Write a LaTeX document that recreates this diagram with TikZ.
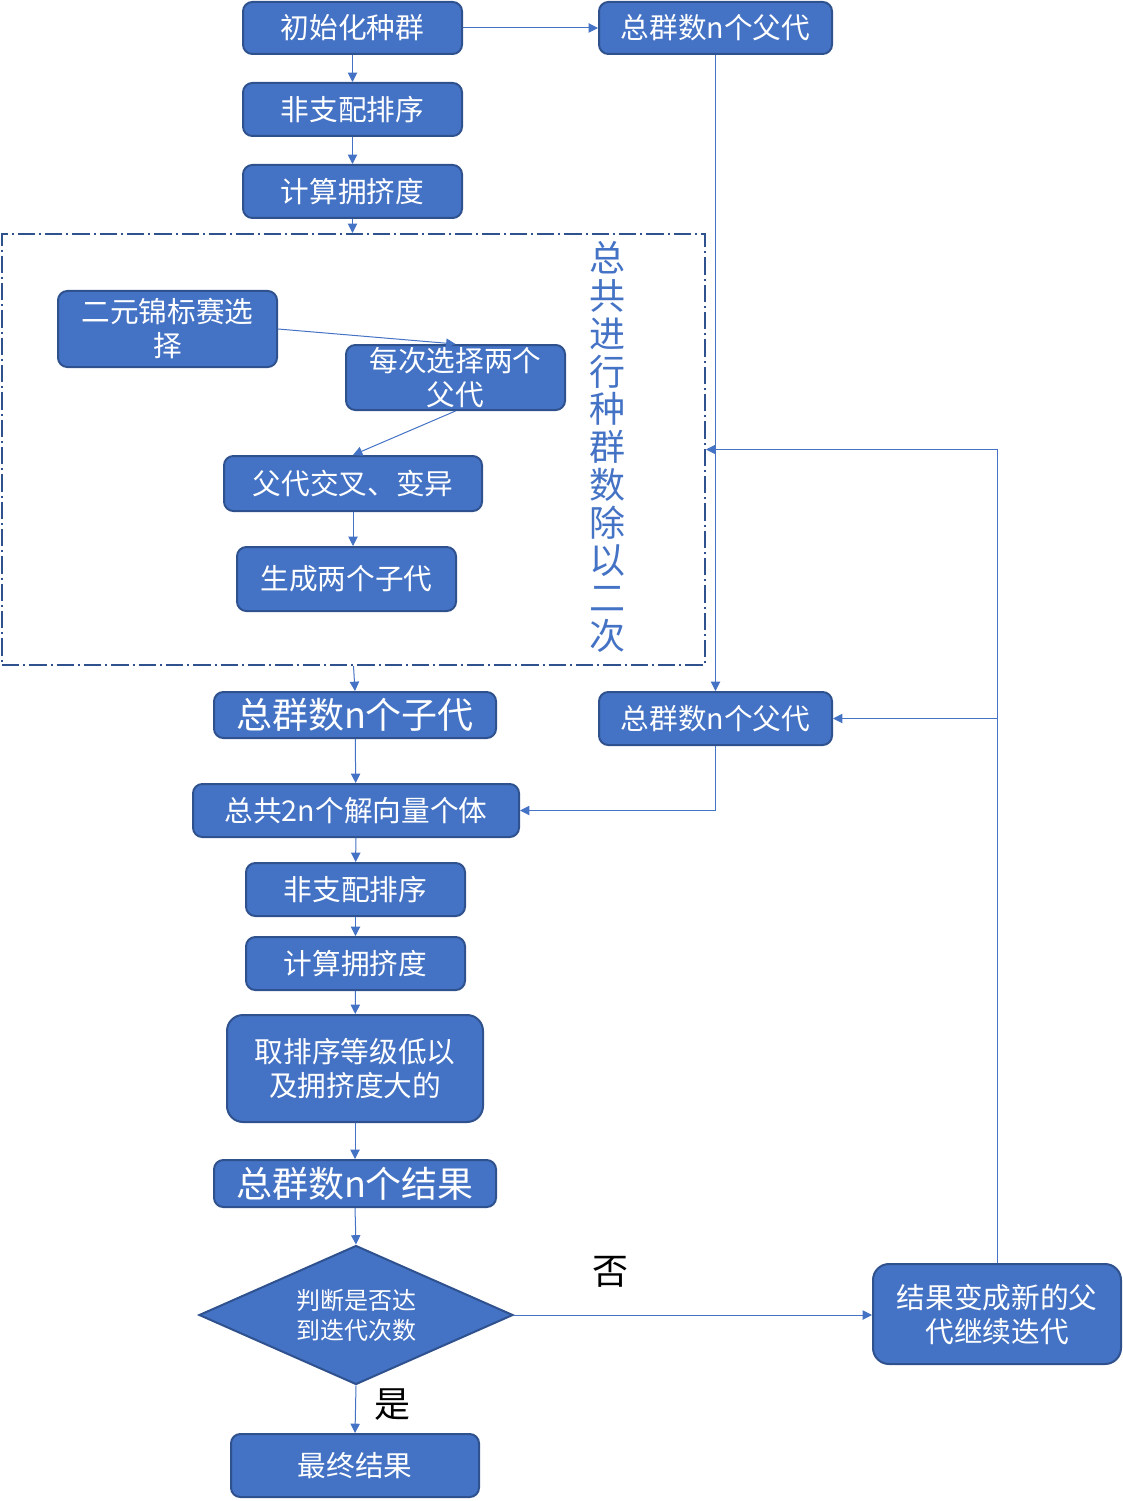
\documentclass[tikz,border=0pt]{standalone}
\usepackage{fontspec}
\setmainfont{Noto Sans CJK SC}
\usetikzlibrary{arrows.meta,shapes.geometric,calc}
\definecolor{bfill}{HTML}{4472C4}
\definecolor{bdraw}{HTML}{2F528F}
\definecolor{lcol}{HTML}{4472C4}
\begin{document}
\begin{tikzpicture}[x=0.75pt,y=-0.75pt,
  sz/.style 2 args={minimum width={#1*0.75pt},minimum height={#2*0.75pt}},
  box/.style={draw=bdraw,fill=bfill,line width=1.5pt,rounded corners=7pt,inner sep=0pt,
    text=white,align=center,font=\fontsize{21.5}{25.5}\selectfont},
  bigbox/.style={box,font=\fontsize{27}{30}\selectfont},
  decis/.style={diamond,draw=bdraw,fill=bfill,line width=1.5pt,inner sep=0pt,shape aspect=2.26,
    minimum width=235.5pt,minimum height=104.25pt,text=white,align=center,
    font=\fontsize{18}{22.5}\selectfont},
  arr/.style={draw=lcol,line width=0.75pt,-{Triangle[length=7pt,width=7pt]}},
  lbl/.style={font=\fontsize{27}{30}\selectfont,text=black,inner sep=0pt},
  loopbox/.style={draw=bdraw,line width=1.5pt,dash pattern=on 13pt off 3pt on 1.5pt off 3pt,inner sep=0pt},
]
\useasboundingbox (0,0) rectangle (1122,1501);

\node[box,sz={219}{52}] (init) at (352.5,28) {初始化种群};
\node[box,sz={233}{52}] (par1) at (715.5,28) {总群数n个父代};
\node[box,sz={219}{53}] (sort1) at (352.5,109.5) {非支配排序};
\node[box,sz={219}{53}] (crowd1) at (352.5,191.5) {计算拥挤度};

\node[loopbox,sz={703}{431}] (loop) at (353.5,449.5) {};
\node[text=lcol,align=center,inner sep=0pt,font=\fontsize{27}{28.3}\selectfont] (vtext) at (607,447)
  {总\\共\\进\\行\\种\\群\\数\\除\\以\\二\\次};

\node[box,sz={219}{76}] (tourn) at (167.5,329) {二元锦标赛选\\择};
\node[box,sz={219}{65}] (choose) at (455.5,377.5) {每次选择两个\\父代};
\node[box,sz={258}{55}] (cross) at (353,483.5) {父代交叉、变异};
\node[box,sz={219}{64}] (gen) at (346.5,579) {生成两个子代};

\node[bigbox,sz={282}{46}] (child) at (355,715) {总群数n个子代};
\node[box,sz={233}{53}] (par2) at (715.5,718.5) {总群数n个父代};
\node[box,sz={326}{53}] (all2n) at (356,810.5) {总共2n个解向量个体};
\node[box,sz={219}{53}] (sort2) at (355.5,889.5) {非支配排序};
\node[box,sz={219}{53}] (crowd2) at (355.5,963.5) {计算拥挤度};
\node[box,rounded corners=12pt,sz={256}{107}] (take) at (355,1068.5) {取排序等级低以\\及拥挤度大的};
\node[bigbox,sz={282}{47}] (result) at (355,1183.5) {总群数n个结果};
\node[decis] (dec) at (356,1315) {判断是否达\\到迭代次数};
\node[box,rounded corners=12pt,sz={248}{100}] (newpar) at (997,1314) {结果变成新的父\\代继续迭代};
\node[box,sz={248}{63}] (final) at (355,1465.5) {最终结果};

\node[lbl] (no) at (610,1272) {否};
\node[lbl] (yes) at (392,1405) {是};

\draw[arr] (init) -- (par1);
\draw[arr] (init) -- (sort1);
\draw[arr] (sort1) -- (crowd1);
\draw[arr] (crowd1.south) -- (crowd1.south |- loop.north);
\draw[arr] (par1) -- (par2);
\draw[arr] (tourn.east) -- (choose.north);
\draw[arr] (choose.south) -- (cross.north);
\draw[arr] (cross.south) -- (cross.south |- gen.north);
\draw[arr] (loop.south) -- (child.north);
\draw[arr] (child) -- (all2n);
\draw[arr] (par2.south) |- (all2n.east);
\draw[arr] (all2n) -- (sort2);
\draw[arr] (sort2) -- (crowd2);
\draw[arr] (crowd2) -- (take);
\draw[arr] (take) -- (result);
\draw[arr] (result.south) -- (dec.north);
\draw[arr] (dec.south) -- (final.north);
\draw[arr] (dec.east) -- (dec.east -| newpar.west);
\draw[arr] (newpar.north) |- (loop.east);
\coordinate (br) at (newpar.north |- par2.east);
\draw[arr] (br) -- (par2.east);
\end{tikzpicture}
\end{document}
